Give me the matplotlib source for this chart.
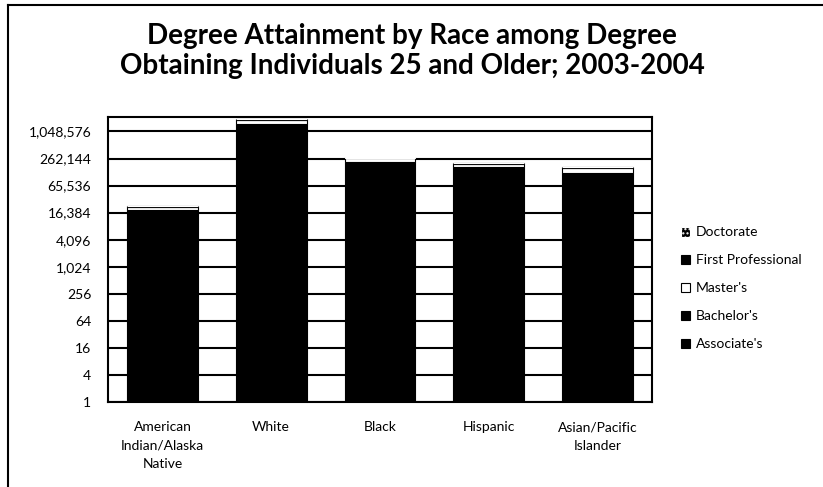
import numpy as np
import matplotlib
matplotlib.use('Agg')
from matplotlib import pyplot as plt
from matplotlib.lines import Line2D

plt.rcParams['font.family'] = ['Lato', 'DejaVu Sans']

# degrees by race, 2003-2004
races = ['American\nIndian/Alaska\nNative', 'White', 'Black', 'Hispanic', 'Asian/Pacific\nIslander']
associates = [8119, 475513, 86402, 78557, 33149]
bachelors = [10638, 1026114, 131241, 94644, 92073]
masters = [3192, 375098, 50657, 29806, 33029]
first_prof = [565, 58887, 6313, 4261, 10502]
doctorate = [217, 26905, 2900, 1667, 2632]
tick_vals = [4**i for i in range(11)]

series = [("Associate's", associates, 'black', 'black', None),
          ("Bachelor's", bachelors, 'black', 'black', None),
          ("Master's", masters, 'white', 'black', None),
          ('First Professional', first_prof, 'black', 'black', None),
          ('Doctorate', doctorate, 'black', 'white', '....')]

fig = plt.figure(figsize=(8.23, 4.87), dpi=100)
ax = fig.add_axes([108/823, 1-402/487, (652-108)/823, (402-117)/487])

x = np.arange(len(races))
bottom = None
handles = []
for name, vals, fc, ec, hatch in series:
    vals = np.array(vals, dtype=float)
    b = ax.bar(x, vals, 0.65, bottom=bottom, color=fc, edgecolor=ec,
               linewidth=0.8, hatch=hatch, zorder=3, label=name)
    handles.append(b)
    bottom = vals.copy() if bottom is None else bottom + vals

ax.set_yscale('log', base=4)
ax.set_ylim(1, 2.2e6)
ax.set_xlim(-0.5, len(races)-0.5)
ax.set_yticks(tick_vals)
ax.set_yticklabels(['{:,}'.format(v) for v in tick_vals])
ax.minorticks_off()
ax.yaxis.grid(True, color='black', linewidth=1.5, zorder=0)
ax.set_xticks(x)
ax.set_xticklabels(races, linespacing=1.65)
ax.tick_params(axis='x', length=0, pad=14, labelsize=10)
ax.tick_params(axis='y', length=0, pad=12, labelsize=10)
for s in ax.spines.values():
    s.set_color('black')
    s.set_linewidth(1.5)

leg = fig.legend(handles[::-1], [h.get_label() for h in handles[::-1]],
                 loc='upper left', bbox_to_anchor=(668/823, 1-214/487),
                 frameon=False, fontsize=10, labelspacing=1.15,
                 handlelength=0.7, handleheight=0.7, handletextpad=0.4)

fig.text(412/823, 1-51/487, 'Degree Attainment by Race among Degree\nObtaining Individuals 25 and Older; 2003-2004',
         ha='center', va='center', fontsize=20, fontweight='bold', linespacing=1.22)

# chart area border (left and top edges visible)
fig.add_artist(Line2D([8/823, 8/823], [0, 1-5/487], color='black', linewidth=1.5))
fig.add_artist(Line2D([8/823, 1], [1-5/487, 1-5/487], color='black', linewidth=1.5))

fig.savefig('out.png', dpi=100)
